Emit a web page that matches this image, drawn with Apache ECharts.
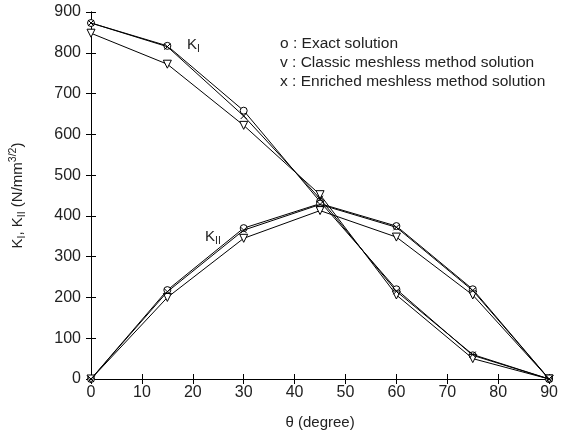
<!DOCTYPE html>
<html><head><meta charset="utf-8">
<script src="https://cdn.jsdelivr.net/npm/echarts@6/dist/echarts.min.js"></script>
<style>html,body{margin:0;padding:0;background:#fff}#c{width:561px;height:436px}</style>
</head><body><div id="c"></div>
<script>
var theta = [0, 15, 30, 45, 60, 75, 90];
var KI_exact = [873, 817, 658, 435, 220, 58, 0];
var KI_classic = [848, 772, 622, 452, 206, 50, 0];
var KI_enriched = [873, 815, 645, 442, 215, 60, 0];
var KII_exact = [0, 218, 370, 430, 375, 220, 0];
var KII_classic = [0, 200, 345, 413, 348, 206, 0];
var KII_enriched = [0, 214, 365, 428, 372, 217, 0];
var legendLines = ['o : Exact solution', 'v : Classic meshless method solution', 'x : Enriched meshless method solution'];

var FONT = 'Liberation Sans, Arial, sans-serif';
function pairs(ys){ return theta.map(function(t,i){ return [t, ys[i]]; }); }
var XSYM = 'path://M0,0L10,10M10,0L0,10';
function ser(ys, sym, size){
  return {type:'line', data:pairs(ys), symbol:sym, symbolSize:size, showSymbol:true,
    lineStyle:{color:'#000', width:1}, itemStyle:{color:'#fff', borderColor:'#000', borderWidth:1},
    emphasis:{disabled:true}, animation:false, z: 3};
}
function serX(ys){
  return {type:'line', data:pairs(ys), symbol:XSYM, symbolSize:6, showSymbol:true,
    lineStyle:{color:'#000', width:1}, itemStyle:{color:'none', borderColor:'#000', borderWidth:1},
    emphasis:{disabled:true}, animation:false, z: 4};
}
var chart = echarts.init(document.getElementById('c'), null, {renderer:'canvas'});
var axCommon = {axisLine:{lineStyle:{color:'#000', width:1}}, axisTick:{inside:true, length:5, lineStyle:{color:'#000'}}, splitLine:{show:false}};
var sub = {n:{fontSize:15, fontFamily:FONT, fill:'#222', verticalAlign:'middle'}, s:{fontSize:10.5, fontFamily:FONT, fill:'#222', padding:[9,0,0,0], verticalAlign:'middle'}};
chart.setOption({
  animation:false,
  grid:{left:89, right:7, top:12, bottom:57, containLabel:false},
  xAxis:[
    Object.assign({type:'value', min:0, max:90, interval:10, position:'bottom',
      axisLabel:{color:'#222', fontSize:16, fontFamily:FONT, margin:6},
      name:'θ (degree)', nameLocation:'middle', nameGap:36,
      nameTextStyle:{color:'#222', fontSize:15, fontFamily:FONT}}, axCommon),
    Object.assign({type:'value', min:0, max:90, interval:10, position:'top', axisLabel:{show:false}}, axCommon)
  ],
  yAxis:[
    Object.assign({type:'value', min:0, max:900, interval:100, position:'left',
      axisLabel:{color:'#222', fontSize:16, fontFamily:FONT, margin:10},
      name:'{n|K}{s|I}{n|, K}{s|II}{n| (N/mm}{p|3/2}{n|)}', nameLocation:'middle', nameGap:63, nameRotate:90,
      nameTextStyle:{color:'#222', fontFamily:FONT, rich:{
        n:{fontSize:15, fontFamily:FONT, color:'#222', lineHeight:20, verticalAlign:'middle'},
        s:{fontSize:10.5, fontFamily:FONT, color:'#222', padding:[9,0,0,0], verticalAlign:'middle'},
        p:{fontSize:10.5, fontFamily:FONT, color:'#222', padding:[0,0,9,0], verticalAlign:'middle'}
      }}}, axCommon),
    Object.assign({type:'value', min:0, max:900, interval:100, position:'right', axisLabel:{show:false}}, axCommon)
  ],
  graphic:[
    {type:'text', left:280, top:36, style:{text:legendLines[0], font:'15.5px '+FONT, fill:'#222'}},
    {type:'text', left:280, top:55, style:{text:legendLines[1], font:'15.5px '+FONT, fill:'#222'}},
    {type:'text', left:280, top:74, style:{text:legendLines[2], font:'15.5px '+FONT, fill:'#222'}},
    {type:'text', left:187, top:37, style:{text:'{n|K}{s|I}', rich:sub}},
    {type:'text', left:205, top:229, style:{text:'{n|K}{s|II}', rich:sub}}
  ],
  series:[
    ser(KI_exact, 'circle', 7),
    ser(KI_classic, 'path://M0,0L10,0L5,10Z', 8),
    serX(KI_enriched),
    ser(KII_exact, 'circle', 7),
    ser(KII_classic, 'path://M0,0L10,0L5,10Z', 8),
    serX(KII_enriched)
  ]
});
</script></body></html>
